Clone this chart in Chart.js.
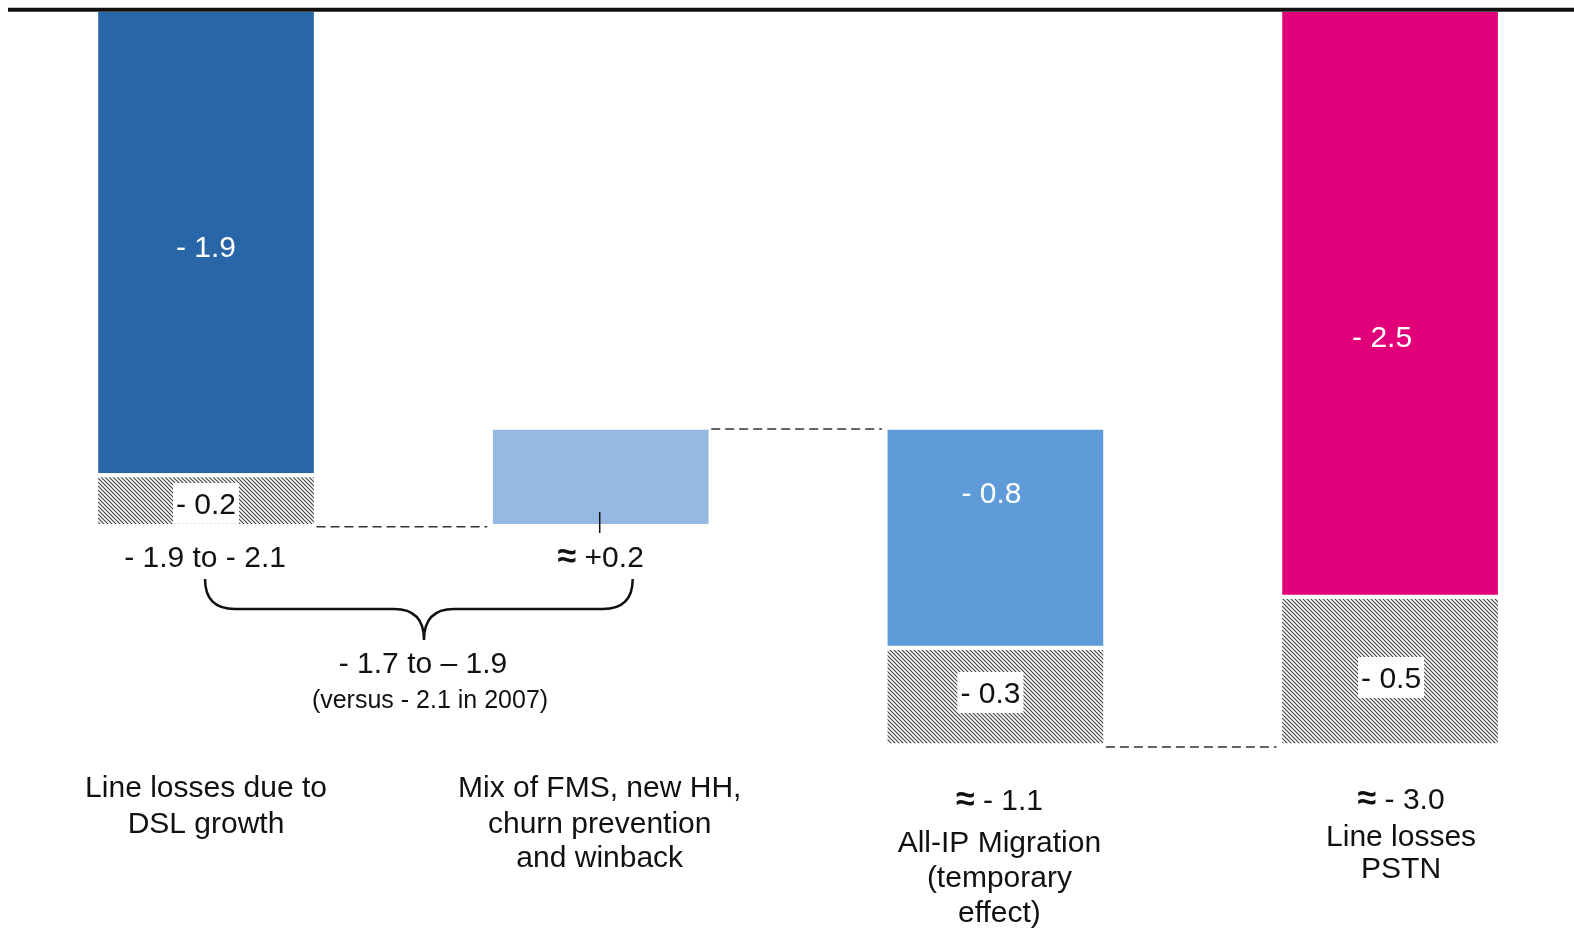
<!DOCTYPE html>
<html>
<head>
<meta charset="utf-8">
<script src="https://cdn.jsdelivr.net/npm/chart.js@4.4.1/dist/chart.umd.min.js"></script>
<style>
  html, body { margin: 0; padding: 0; background: #fff; }
  #wrap { width: 1574px; height: 930px; position: relative; }
</style>
</head>
<body>
<div id="wrap"><canvas id="waterfall"></canvas></div>
<script>
// bar extents as drawn on the slide (units, 0 = top rule)
const positions = [0, 1, 2, 3];
const mainBars = [[0, -1.89], [-2.10, -1.715], [-1.715, -2.60], [0, -2.39]];
const hatchBars = [[-1.91, -2.10], null, [-2.62, -3.0], [-2.41, -3.0]];
const mainColors = ['#2866a7', '#96b9e3', '#5e9bd8', '#e2007a'];
const mainLabels = ['- 1.9', '', '- 0.8', '- 2.5'];
const hatchLabels = ['- 0.2', '', '- 0.3', '- 0.5'];
const categoryLabels = [
  ['Line losses due to', 'DSL growth'],
  ['Mix of FMS, new HH,', 'churn prevention', 'and winback'],
  ['≈ - 1.1', 'All-IP Migration', '(temporary', 'effect)'],
  ['≈ - 3.0', 'Line losses', 'PSTN']
];
const rangeLabel = '- 1.9 to - 2.1';
const netLabel = '≈ +0.2';
const totalLabel = '- 1.7 to – 1.9';
const compareLabel = '(versus - 2.1 in 2007)';

const FONT = '"Liberation Sans", Arial, sans-serif';

function makeHatch() {
    const c = document.createElement('canvas');
    c.width = 4; c.height = 4;
    const g = c.getContext('2d');
    g.fillStyle = '#fff';
    g.fillRect(0, 0, 4, 4);
    g.strokeStyle = '#444';
    g.lineWidth = 1.15;
    g.beginPath();
    g.moveTo(-1, -1); g.lineTo(5, 5);
    g.moveTo(-1, 3); g.lineTo(1, 5);
    g.moveTo(3, -1); g.lineTo(5, 1);
    g.stroke();
    return g.createPattern(c, 'repeat');
}

const annotations = {
    id: 'annotations',
    afterDatasetsDraw(chart) {
        const ctx = chart.ctx;
        const xs = chart.scales.x, ys = chart.scales.y;
        const cx = i => xs.getPixelForValue(positions[i]);
        const py = v => ys.getPixelForValue(v);
        const half = 107.5;

        // centred text; a leading "≈" is set heavier, as on the slide
        function text(s, x, y, size, color) {
            ctx.fillStyle = color;
            ctx.textBaseline = 'alphabetic';
            if (s.startsWith('≈')) {
                const rest = s.slice(1);
                ctx.font = 'bold ' + (size + 4) + 'px ' + FONT;
                const w1 = ctx.measureText('≈').width;
                ctx.font = size + 'px ' + FONT;
                const w2 = ctx.measureText(rest).width;
                let left = x - (w1 + w2) / 2;
                ctx.textAlign = 'left';
                ctx.font = 'bold ' + (size + 4) + 'px ' + FONT;
                ctx.fillText('≈', left, y);
                ctx.font = size + 'px ' + FONT;
                ctx.fillText(rest, left + w1, y);
                return;
            }
            ctx.font = size + 'px ' + FONT;
            ctx.textAlign = 'center';
            ctx.fillText(s, x, y);
        }

        ctx.save();

        // top rule
        ctx.strokeStyle = '#111';
        ctx.lineWidth = 4;
        ctx.beginPath();
        ctx.moveTo(8, py(0) - 2.5);
        ctx.lineTo(chart.width, py(0) - 2.5);
        ctx.stroke();

        // dashed connectors between bars
        ctx.setLineDash([9, 5]);
        ctx.lineWidth = 1.5;
        ctx.strokeStyle = '#333';
        const links = [[0, py(hatchBars[0][1]) + 3], [1, py(mainBars[1][1]) - 1], [2, py(hatchBars[2][1]) + 4]];
        links.forEach(([i, y]) => {
            ctx.beginPath();
            ctx.moveTo(cx(i) + half + 3, y);
            ctx.lineTo(cx(i + 1) - half - 6, y);
            ctx.stroke();
        });
        ctx.setLineDash([]);

        // values inside the solid bars
        const mainY = [257, 0, 503, 347];
        const mainDx = [0, 0, -4, -8];
        mainLabels.forEach((s, i) => {
            if (s) text(s, cx(i) + mainDx[i], mainY[i], 30, '#fff');
        });

        // values on the hatched parts, on a white box
        const hatchY = [514, 0, 703, 688];
        const hatchDx = [0, 0, -5, 1];
        hatchLabels.forEach((s, i) => {
            if (!s) return;
            ctx.font = '30px ' + FONT;
            const w = ctx.measureText(s).width + 6;
            const top = Math.max(py(hatchBars[i][0]) + 1, hatchY[i] - 31);
            const bottom = Math.min(py(hatchBars[i][1]), hatchY[i] + 10);
            ctx.fillStyle = '#fff';
            ctx.fillRect(cx(i) + hatchDx[i] - w / 2, top, w, bottom - top);
            text(s, cx(i) + hatchDx[i], hatchY[i], 30, '#111');
        });

        // small tick on the light bar
        ctx.strokeStyle = '#111';
        ctx.lineWidth = 1.5;
        ctx.beginPath();
        ctx.moveTo(cx(1) - 1, 512);
        ctx.lineTo(cx(1) - 1, 533);
        ctx.stroke();

        text(rangeLabel, cx(0) - 1, 567, 30, '#111');
        text(netLabel, cx(1), 567, 30, '#111');

        // curly brace
        const bl = cx(0) - 1, br = cx(1) + 32, tip = 424;
        const armTop = 579, mid = 609, low = 640, r = 30;
        ctx.lineWidth = 2.5;
        ctx.beginPath();
        ctx.moveTo(bl, armTop);
        ctx.quadraticCurveTo(bl, mid, bl + r, mid);
        ctx.lineTo(tip - r, mid);
        ctx.quadraticCurveTo(tip, mid, tip, low);
        ctx.quadraticCurveTo(tip, mid, tip + r, mid);
        ctx.lineTo(br - r, mid);
        ctx.quadraticCurveTo(br, mid, br, armTop);
        ctx.stroke();

        text(totalLabel, 423, 673, 30, '#111');
        text(compareLabel, 430, 708, 25, '#111');

        // category captions
        const capY = [[797, 833], [797, 833, 867], [810, 852, 887, 922], [809, 846, 878]];
        const capDx = [0, -1, 4, 11];
        categoryLabels.forEach((lines, i) => {
            lines.forEach((s, j) => text(s, cx(i) + capDx[i], capY[i][j], 30, '#111'));
        });

        ctx.restore();
    }
};

document.addEventListener('DOMContentLoaded', () => {
    const hatch = makeHatch();
    const ctx = document.getElementById('waterfall').getContext('2d');

    new Chart(ctx, {
        type: 'bar',
        data: {
            datasets: [{
                label: 'Effect',
                data: positions.map((x, i) => ({ x: x, y: mainBars[i] })),
                backgroundColor: mainColors,
                borderWidth: 0,
                grouped: false,
                barThickness: 215
            }, {
                label: 'Range',
                data: positions.map((x, i) => ({ x: x, y: hatchBars[i] })),
                backgroundColor: hatch,
                borderWidth: 0,
                grouped: false,
                barThickness: 215
            }]
        },
        options: {
            responsive: true,
            maintainAspectRatio: false,
            animation: false,
            layout: { padding: 0 },
            scales: {
                x: { type: 'linear', display: false, offset: false, min: -0.522, max: 3.466 },
                y: { display: false, min: -3.768, max: 0.0505 }
            },
            plugins: {
                legend: { display: false },
                tooltip: { enabled: false }
            }
        },
        plugins: [annotations]
    });
});
</script>
</body>
</html>
